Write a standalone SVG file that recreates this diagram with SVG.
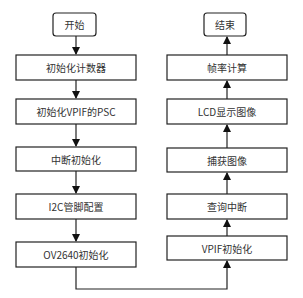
<svg xmlns="http://www.w3.org/2000/svg" width="303" height="298" viewBox="0 0 303 298">
<style>
.box{fill:#fff;stroke:#222;stroke-width:1.2}
.t{font-family:"Noto Sans CJK SC","Liberation Sans",sans-serif;font-size:10px;fill:#333;text-anchor:middle;dominant-baseline:central}
.c{fill:none;stroke:#222;stroke-width:1.2}
</style>
<defs>
<marker id="ah" markerWidth="8" markerHeight="10" refX="7" refY="4" orient="auto" markerUnits="userSpaceOnUse" viewBox="0 0 8 8">
<path d="M0,0 L8,4 L0,8 Z" fill="#111"/>
</marker>
</defs>
<rect width="303" height="298" fill="#fff"/>
<g id="connectors">
<line class="c" x1="76" y1="36" x2="76" y2="54" marker-end="url(#ah)"/>
<line class="c" x1="76" y1="80" x2="76" y2="98" marker-end="url(#ah)"/>
<line class="c" x1="76" y1="124" x2="76" y2="146" marker-end="url(#ah)"/>
<line class="c" x1="76" y1="171" x2="76" y2="193" marker-end="url(#ah)"/>
<line class="c" x1="76" y1="219" x2="76" y2="241" marker-end="url(#ah)"/>
<polyline class="c" points="76,267 76,289 227,289 227,261" marker-end="url(#ah)"/>
<line class="c" x1="227" y1="236" x2="227" y2="220" marker-end="url(#ah)"/>
<line class="c" x1="227" y1="194" x2="227" y2="173" marker-end="url(#ah)"/>
<line class="c" x1="227" y1="148" x2="227" y2="125" marker-end="url(#ah)"/>
<line class="c" x1="227" y1="99" x2="227" y2="81" marker-end="url(#ah)"/>
<line class="c" x1="227" y1="55" x2="227" y2="37" marker-end="url(#ah)"/>
</g>
<g id="start"><rect class="box" x="53" y="13" width="43" height="23" rx="3"/><text class="t" x="74.5" y="24.5">开始</text></g>
<g id="n1"><rect class="box" x="16" y="55" width="120" height="25"/><text class="t" x="76" y="67.5">初始化计数器</text></g>
<g id="n2"><rect class="box" x="16" y="99" width="120" height="25"/><text class="t" x="76" y="111.5">初始化VPIF的PSC</text></g>
<g id="n3"><rect class="box" x="16" y="147" width="120" height="24"/><text class="t" x="76" y="159">中断初始化</text></g>
<g id="n4"><rect class="box" x="16" y="194" width="120" height="25"/><text class="t" x="76" y="206.5">I2C管脚配置</text></g>
<g id="n5"><rect class="box" x="16" y="242" width="120" height="25"/><text class="t" x="76" y="254.5">OV2640初始化</text></g>
<g id="n6"><rect class="box" x="167" y="236" width="120" height="24"/><text class="t" x="227" y="248">VPIF初始化</text></g>
<g id="n7"><rect class="box" x="167" y="194" width="120" height="25"/><text class="t" x="227" y="206.5">查询中断</text></g>
<g id="n8"><rect class="box" x="167" y="148" width="120" height="24"/><text class="t" x="227" y="160">捕获图像</text></g>
<g id="n9"><rect class="box" x="167" y="99" width="120" height="25"/><text class="t" x="227" y="111.5">LCD显示图像</text></g>
<g id="n10"><rect class="box" x="167" y="55" width="120" height="25"/><text class="t" x="227" y="67.5">帧率计算</text></g>
<g id="end"><rect class="box" x="204" y="13" width="42" height="23" rx="3"/><text class="t" x="225" y="24.5">结束</text></g>
</svg>
